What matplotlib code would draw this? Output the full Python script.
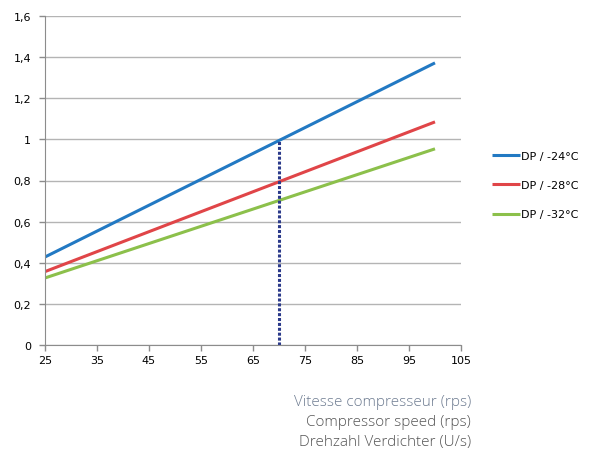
import matplotlib.pyplot as plt
import numpy as np

# data
speed = [25, 100]
dp_24 = [0.428, 1.372]
dp_28 = [0.357, 1.085]
dp_32 = [0.326, 0.954]
labels = ['DP / -24°C', 'DP / -28°C', 'DP / -32°C']
colors = ['#2279c3', '#e04548', '#8cc04b']
marker_speed = 70
marker_top = 0.993

xticks = [25, 35, 45, 55, 65, 75, 85, 95, 105]
yticks = [0, 0.2, 0.4, 0.6, 0.8, 1, 1.2, 1.4, 1.6]
ytick_labels = ['0', '0,2', '0,4', '0,6', '0,8', '1', '1,2', '1,4', '1,6']

fig = plt.figure(figsize=(5.97, 4.56), dpi=100)
ax = fig.add_axes([45 / 597, 1 - 346 / 456, 416 / 597, 329 / 456])

for ys, lab, col in zip([dp_24, dp_28, dp_32], labels, colors):
    ax.plot(speed, ys, color=col, lw=2.2, label=lab, solid_capstyle='butt')

ax.plot([marker_speed, marker_speed], [0, marker_top], color='#2b3a8a',
        lw=2.2, ls=(0, (1, 0.6)))

ax.set_xlim(25, 105)
ax.set_ylim(0, 1.6)
ax.set_xticks(xticks)
ax.set_yticks(yticks)
ax.set_yticklabels(ytick_labels)
ax.yaxis.grid(True, color='#b4b4b4', lw=1)
ax.set_axisbelow(True)
for s in ['top', 'right']:
    ax.spines[s].set_visible(False)
for s in ['left', 'bottom']:
    ax.spines[s].set_color('#8c8c8c')
ax.tick_params(axis='both', colors='#8c8c8c', labelcolor='black', labelsize=8,
               length=4, width=1)
ax.tick_params(axis='y', pad=6)

leg = fig.legend(loc='center left', bbox_to_anchor=(482 / 597, 1 - 186 / 456),
                 frameon=False, fontsize=8, handlelength=2.5, handletextpad=0.1,
                 labelspacing=1.75)

xl = ['Vitesse compresseur (rps)', 'Compressor speed (rps)', 'Drehzahl Verdichter (U/s)']
xl_col = ['#6e7c91', '#555555', '#555555']
for i, (t, c) in enumerate(zip(xl, xl_col)):
    fig.text(471 / 597, 1 - (403 + 20 * i) / 456, t, ha='right', va='center',
             fontsize=11, color=c, family='Open Sans', fontweight='light')

fig.savefig('out.png', dpi=100)
